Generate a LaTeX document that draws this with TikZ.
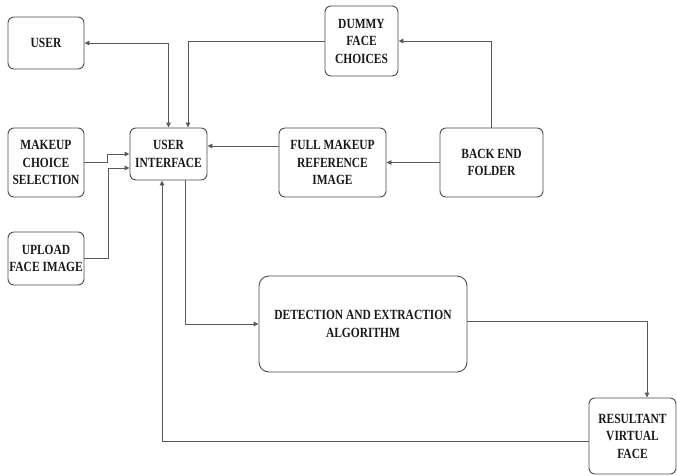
\documentclass[tikz,border=0pt]{standalone}
\usepackage{fontspec}
\setmainfont{Liberation Serif}[FakeStretch=0.82]
\usetikzlibrary{arrows.meta}
\begin{document}
\begin{tikzpicture}[x=1pt,y=-1pt,
  box/.style={draw=black!70, rounded corners=6pt, line width=0.9pt, align=center,
    font=\bfseries\fontsize{14}{17.5}\selectfont, inner sep=0pt, text=black!90},
  tip/.tip={Triangle[length=5pt,width=4.5pt]},
  conn/.style={draw=black!65, line width=0.9pt, -tip}]
\useasboundingbox (0,0) rectangle (677,475);
\node[box, minimum width=76pt, minimum height=52pt] (user) at (46,43) {USER};
\node[box, minimum width=73pt, minimum height=70pt] (dummy) at (361.5,41) {DUMMY\\FACE\\CHOICES};
\node[box, minimum width=76pt, minimum height=69pt] (mcs) at (46,162.5) {MAKEUP\\CHOICE\\SELECTION};
\node[box, minimum width=77pt, minimum height=52pt] (ui) at (168.5,154) {USER\\INTERFACE};
\node[box, minimum width=107pt, minimum height=69pt] (full) at (332.5,162.5) {FULL MAKEUP\\REFERENCE\\IMAGE};
\node[box, minimum width=103pt, minimum height=69pt] (back) at (491.5,162.5) {BACK END\\FOLDER};
\node[box, minimum width=76pt, minimum height=53pt] (up) at (46,258.5) {UPLOAD\\FACE IMAGE};
\node[box, rounded corners=10pt, minimum width=208pt, minimum height=96pt] (det) at (363,324) {DETECTION AND EXTRACTION\\ALGORITHM};
\node[box, minimum width=87pt, minimum height=76pt] (res) at (632.5,436) {RESULTANT\\VIRTUAL\\FACE};

\draw[conn, tip-tip] (ui.north) |- (user.east);
\draw[conn] (dummy.west) -| ([xshift=19.5pt]ui.north);
\draw[conn] (back.north) |- (dummy.east);
\draw[conn] (back.west) -- (full.east);
\draw[conn] ([yshift=16.5pt]full.west) -- ([yshift=8pt]ui.east);
\draw[conn] (mcs.east) -- ++(23,0) |- (ui.west);
\draw[conn] (up.east) -- ++(24,0) |- ([yshift=-14pt]ui.west);
\draw[conn] ([xshift=16.5pt]ui.south) |- (det.west);
\draw[conn] ([yshift=3pt]det.east) -| ([xshift=14.5pt]res.north);
\draw[conn] ([yshift=-5pt]res.west) -| ([xshift=-6.5pt]ui.south);
\end{tikzpicture}
\end{document}
